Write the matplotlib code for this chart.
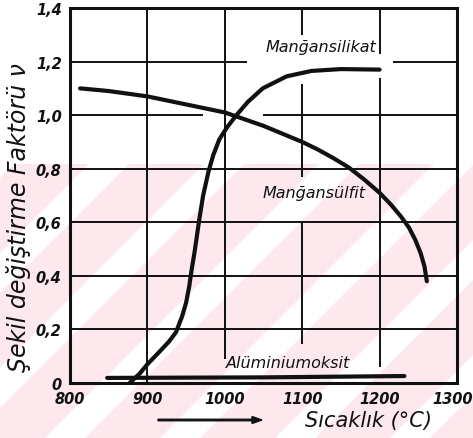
import matplotlib.pyplot as plt
from matplotlib.patches import Polygon, Rectangle, FancyArrow
from matplotlib.transforms import offset_copy

# ==============================================
# DATA
# ==============================================
x_ticks = [800, 900, 1000, 1100, 1200, 1300]
y_ticks = [0, 0.2, 0.4, 0.6, 0.8, 1.0, 1.2, 1.4]
y_tick_labels = ["0", "0,2", "0,4", "0,6", "0,8", "1,0", "1,2", "1,4"]

# Mangansülfit: slowly falling, then dropping fast
sulfit_t = [813, 850, 900, 950, 1000, 1050, 1100, 1120, 1140, 1160, 1180, 1200, 1215,
            1228, 1238, 1246, 1253, 1258, 1261]
sulfit_v = [1.10, 1.09, 1.07, 1.04, 1.01, 0.96, 0.90, 0.872, 0.84, 0.805, 0.76, 0.71, 0.665,
            0.62, 0.58, 0.535, 0.485, 0.435, 0.38]

# Mangansilikat: S-curve
silikat_t = [877, 890, 900, 915, 928, 937, 945, 950, 954, 957, 961, 964, 967, 972, 979,
             985, 993, 1003, 1015, 1030, 1049, 1080, 1112, 1150, 1200]
silikat_v = [0.00, 0.035, 0.07, 0.115, 0.155, 0.19, 0.25, 0.30, 0.36, 0.42, 0.49, 0.55, 0.61,
             0.70, 0.79, 0.85, 0.91, 0.955, 1.00, 1.05, 1.10, 1.145, 1.165, 1.172, 1.17]

# Alüminiumoksit: flat near zero
alu_t = [848, 1050, 1232]
alu_v = [0.019, 0.021, 0.026]

INK = "#111111"
PINK = "#fde9ed"

# hand drawn grid has gaps around labels: (value, start, end)
h_grid = [(0.2, 800, 1300), (0.4, 800, 1300), (0.6, 800, 1300), (0.8, 800, 1300),
          (1.0, 800, 972), (1.0, 1049, 1300),
          (1.2, 800, 1029), (1.2, 1217, 1300)]
v_grid = [(900, 0, 1.4), (1000, 0.09, 1.4),
          (1100, 0.146, 0.6), (1100, 0.77, 1.116), (1100, 1.30, 1.4),
          (1200, 0.06, 1.14), (1200, 1.23, 1.4)]

fig = plt.figure(figsize=(4.73, 4.39), dpi=100)
W, H = 473, 439

# pink watermark with white diagonal bands in the lower part
fig.patches.append(Rectangle((0, 0), 1, (H - 165) / H, transform=fig.transFigure,
                             facecolor=PINK, edgecolor="none", zorder=-10))
for x0 in range(-300, 600, 115):
    pts = [(x0, 0), (x0 + 40, 0), (x0 + 40 + 274, 274), (x0 + 274, 274)]
    pts = [(px / W, py / H) for px, py in pts]
    fig.patches.append(Polygon(pts, closed=True, transform=fig.transFigure,
                               facecolor="white", edgecolor="none", zorder=-9))

ax = fig.add_axes([70 / W, 1 - 384 / H, 387 / W, 375 / H])
ax.set_facecolor("none")
ax.set_xlim(800, 1300)
ax.set_ylim(0, 1.4)

for val, a, b in h_grid:
    ax.hlines(val, a, b, color=INK, lw=1.4, zorder=1)
for val, a, b in v_grid:
    ax.vlines(val, a, b, color=INK, lw=1.4, zorder=1)

ax.plot(sulfit_t, sulfit_v, color=INK, lw=3.0, solid_capstyle="round",
        solid_joinstyle="round", zorder=3)
ax.plot(silikat_t, silikat_v, color=INK, lw=3.0, solid_capstyle="round",
        solid_joinstyle="round", zorder=3)
ax.plot(alu_t, alu_v, color=INK, lw=3.0, solid_capstyle="round", zorder=3)

for s in ax.spines.values():
    s.set_linewidth(2.2)
    s.set_color(INK)

hand = dict(style="italic", color=INK, family="DejaVu Sans")
ax.set_xticks(x_ticks)
ax.set_xticklabels([str(t) for t in x_ticks], fontsize=10.5, fontweight="bold", **hand)
ax.set_yticks(y_ticks)
ax.set_yticklabels(y_tick_labels, fontsize=10.5, fontweight="bold", **hand)
ax.tick_params(length=0, pad=6)
# last x label sits a bit left so it is not cut at the edge
last = ax.get_xticklabels()[-1]
last.set_transform(offset_copy(last.get_transform(), fig=fig, x=-4, units="dots"))

ax.text(1124, 1.258, "Manğansilikat", fontsize=11.5, ha="center", va="center", **hand)
ax.text(1115, 0.713, "Manğansülfit", fontsize=11.5, ha="center", va="center", **hand)
ax.text(1082, 0.078, "Alüminiumoksit", fontsize=11.5, ha="center", va="center", **hand)

fig.text(19 / W, 1 - 218 / H, "Şekil değiştirme Faktörü ν", rotation=90,
         fontsize=17, ha="center", va="center", **hand)
fig.text(368 / W, 1 - 421 / H, "Sıcaklık (°C)", fontsize=15, ha="center", va="center", **hand)
fig.patches.append(FancyArrow(
    158 / W, 1 - 421 / H, 104 / W, 0, width=1.5 / H, head_width=7 / H,
    head_length=10 / W, length_includes_head=True, transform=fig.transFigure,
    color=INK))

fig.savefig("out.png", dpi=100)
